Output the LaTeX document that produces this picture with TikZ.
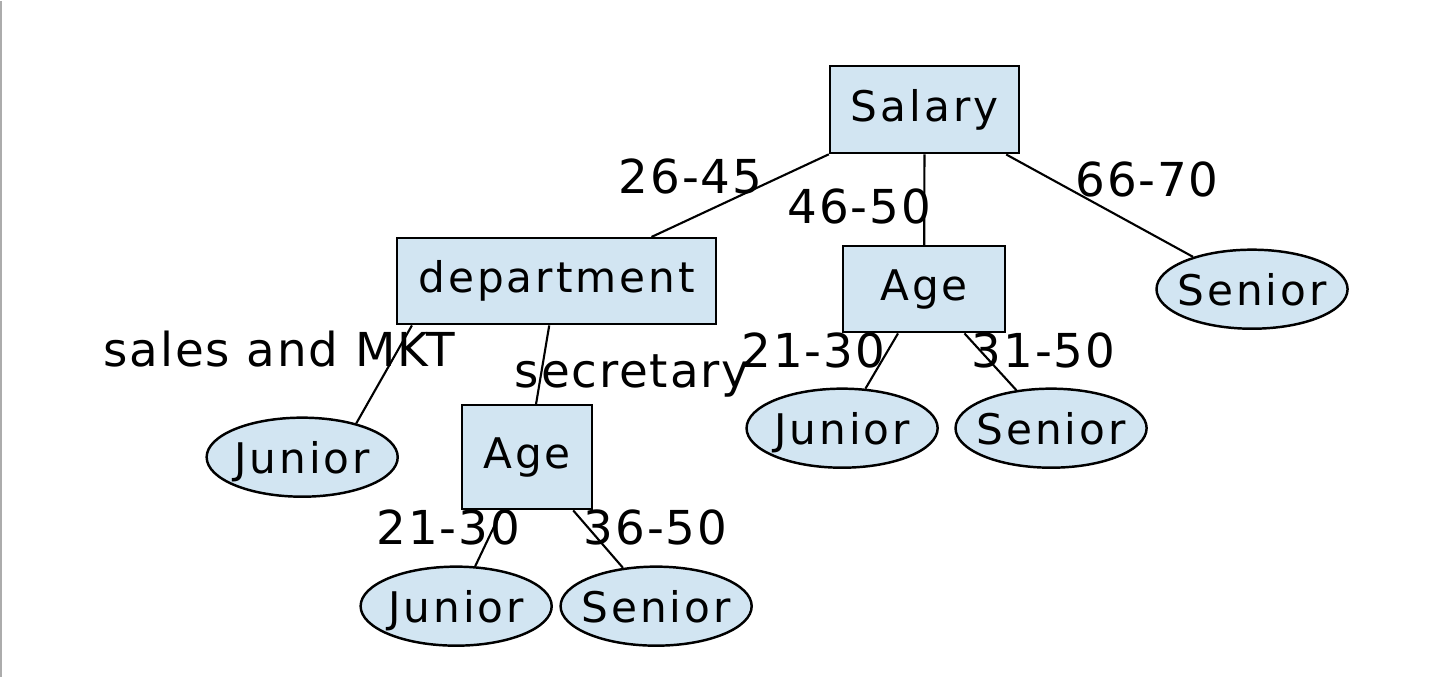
\documentclass[tikz,border=0pt]{standalone}
\usepackage{fontspec}
\usepackage{xcolor}
\usetikzlibrary{shapes.geometric}
\newfontfamily\treefont[LetterSpace=7]{DejaVu Sans}
\newfontfamily\condfont[LetterSpace=4]{DejaVu Sans}
\definecolor{nodeblue}{RGB}{210,229,242}

\begin{document}
\begin{tikzpicture}[x=0.01cm,y=-0.01cm,
        test/.style={rectangle,draw,fill=nodeblue,line width=0.7pt,inner sep=0pt,
            font=\treefont\fontsize{12}{14}\selectfont},
        leaf/.style={ellipse,draw,fill=nodeblue,line width=0.7pt,inner ysep=0pt,inner xsep=-0.3cm,
            minimum width=1.91cm,minimum height=0.79cm,text depth=0pt,
            font=\treefont\fontsize{12}{14}\selectfont},
        cond/.style={inner sep=0pt,font=\condfont\fontsize{13.3}{16}\selectfont},
        branch/.style={line width=0.6pt}]
                \fill[white] (0,0) rectangle (1448,676);
                \draw[gray!65,line width=0.7pt] (1,0) -- (1,676);
                \useasboundingbox (0,0) rectangle (1448,676);
                % tests
                \node[test,minimum width=1.89cm,minimum height=0.87cm] (salary) at (924.5,108.5) {Salary};
                \node[test,minimum width=3.19cm,minimum height=0.86cm] (dept) at (556.5,280) {department};
                \node[test,minimum width=1.62cm,minimum height=0.86cm] (ageA) at (924,288) {Age};
                \node[test,minimum width=1.30cm,minimum height=1.04cm] (ageB) at (527,456) {Age};
                % leaves
                \node[leaf] (senR) at (1252,288) {Senior};
                \node[leaf] (junL) at (302,456) {Junior};
                \node[leaf] (junA) at (842,427) {Junior};
                \node[leaf] (senA) at (1051,427) {Senior};
                \node[leaf] (junB) at (456,605) {Junior};
                \node[leaf] (senB) at (656,605) {Senior};
                % branches
                \draw[branch] (salary) -- (dept);
                \draw[branch] (salary) -- (ageA);
                \draw[branch] (salary) -- (senR);
                \draw[branch] (dept.197.5) -- (junL.32);
                \draw[branch] (dept) -- (ageB);
                \draw[branch] (ageA) -- (junA);
                \draw[branch] (ageA) -- (senA);
                \draw[branch] (ageB) -- (junB);
                \draw[branch] (ageB) -- (senB);
                % conditions
                \node[cond] (c2645) at (690.5,175) {26-45};
                \node[cond] (c4650) at (859,205) {46-50};
                \node[cond] (c6670) at (1147,178) {66-70};
                \node[cond] (csales) at (279,348) {sales and MKT};
                \node[cond] (csecr) at (632,375) {secretary};
                \node[cond] (c2130a) at (813,349) {21-30};
                \node[cond] (c3150) at (1043.5,349) {31-50};
                \node[cond] (c2130b) at (448,526) {21-30};
                \node[cond] (c3650) at (655.5,526.5) {36-50};
            \end{tikzpicture}
\end{document}
